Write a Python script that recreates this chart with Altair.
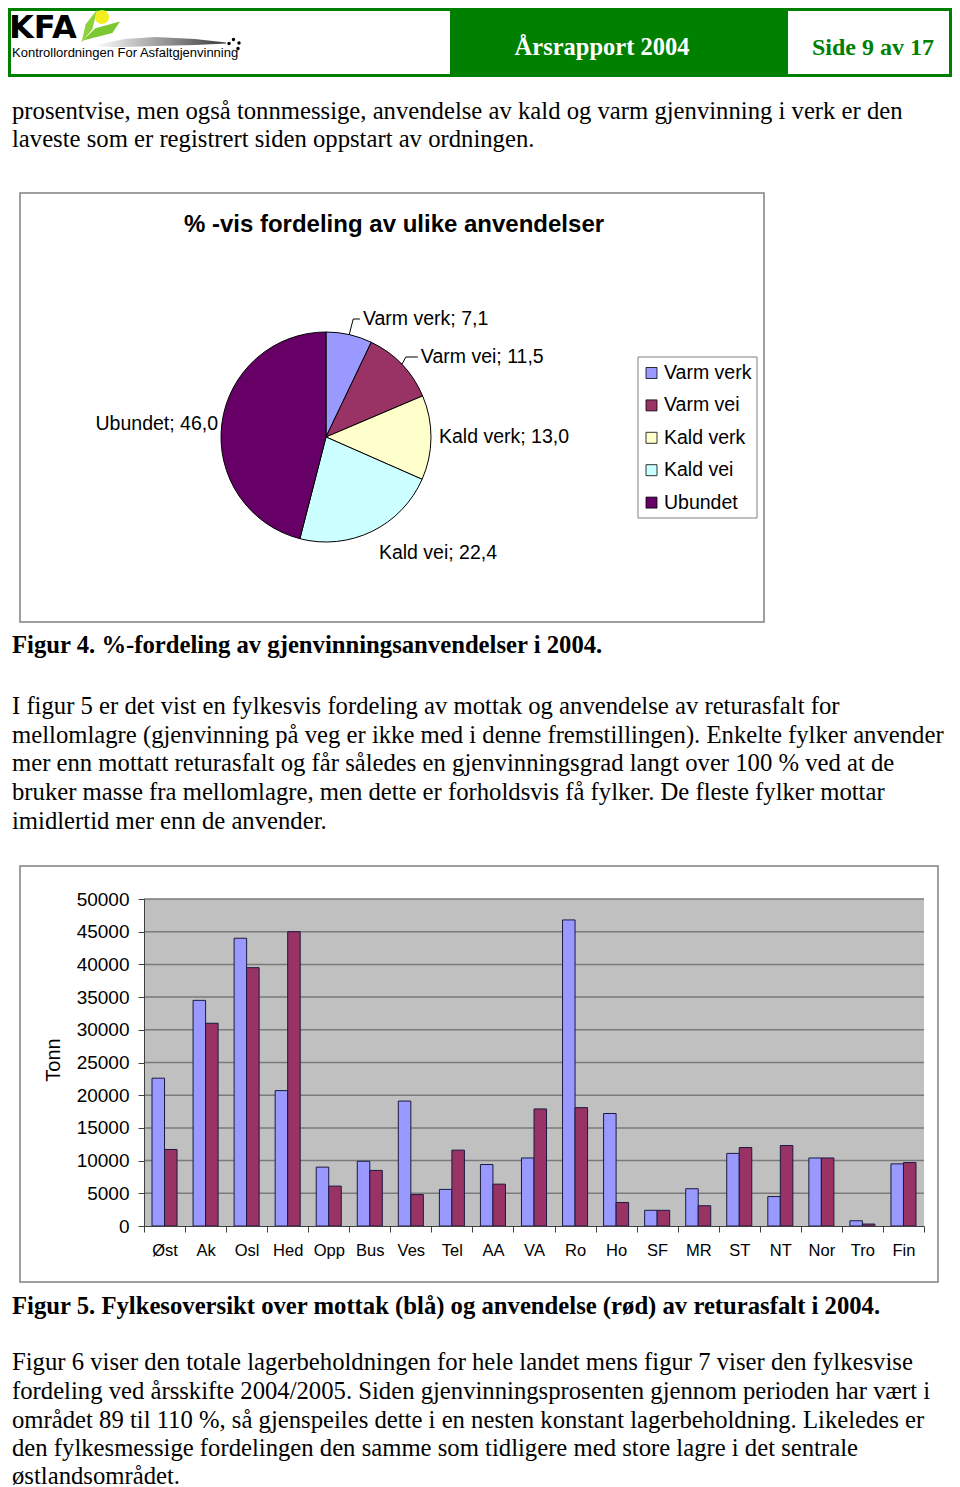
import math
import altair as alt
import pandas as pd

# ---------------- data ----------------
pie_categories = ["Varm verk", "Varm vei", "Kald verk", "Kald vei", "Ubundet"]
pie_values = [7.1, 11.5, 13.0, 22.4, 46.0]
pie_colors = ["#9999FF", "#993366", "#FFFFCC", "#CCFFFF", "#660066"]
pie_title = "% -vis fordeling av ulike anvendelser"

counties = ["Øst", "Ak", "Osl", "Hed", "Opp", "Bus", "Ves", "Tel", "AA", "VA",
            "Ro", "Ho", "SF", "MR", "ST", "NT", "Nor", "Tro", "Fin"]
mottak = [22600, 34500, 44000, 20700, 9000, 9900, 19100, 5600, 9400, 10400,
          46800, 17200, 2400, 5700, 11100, 4500, 10400, 800, 9500]
anvendelse = [11700, 31000, 39500, 45000, 6100, 8500, 4800, 11600, 6400, 17900,
              18100, 3600, 2400, 3100, 12000, 12300, 10400, 300, 9700]
series_names = ["Mottak", "Anvendelse"]
series_colors = ["#9999FF", "#993366"]
y_ticks = [0, 5000, 10000, 15000, 20000, 25000, 30000, 35000, 40000, 45000, 50000]
y_title = "Tonn"

header_title = "Årsrapport 2004"
header_page = "Side 9 av 17"
logo_big = "KFA"
logo_small = "Kontrollordningen For Asfaltgjenvinning"

para1 = ["prosentvise, men også tonnmessige, anvendelse av kald og varm gjenvinning i verk er den",
         "laveste som er registrert siden oppstart av ordningen."]
caption1 = "Figur 4. %-fordeling av gjenvinningsanvendelser i 2004."
para2 = ["I figur 5 er det vist en fylkesvis fordeling av mottak og anvendelse av returasfalt for",
         "mellomlagre (gjenvinning på veg er ikke med i denne fremstillingen). Enkelte fylker anvender",
         "mer enn mottatt returasfalt og får således en gjenvinningsgrad langt over 100 % ved at de",
         "bruker masse fra mellomlagre, men dette er forholdsvis få fylker. De fleste fylker mottar",
         "imidlertid mer enn de anvender."]
caption2 = "Figur 5. Fylkesoversikt over mottak (blå) og anvendelse (rød) av returasfalt i 2004."
para3 = ["Figur 6 viser den totale lagerbeholdningen for hele landet mens figur 7 viser den fylkesvise",
         "fordeling ved årsskifte 2004/2005. Siden gjenvinningsprosenten gjennom perioden har vært i",
         "området 89 til 110 %, så gjenspeiles dette i en nesten konstant lagerbeholdning. Likeledes er",
         "den fylkesmessige fordelingen den samme som tidligere med store lagre i det sentrale",
         "østlandsområdet."]

# ---------------- layout (page pixels) ----------------
W, H = 944, 1479
OFF = 8
SERIF = "Liberation Serif"
SANS = "Liberation Sans"
GREEN = "#008000"
BODY = 24.7
LH = 28.7


def P(v):
    return v - OFF


def text_layer(rows, size, font=SERIF, weight="normal", color="black",
               align="left", baseline="alphabetic", angle=0):
    df = pd.DataFrame({"x": [P(r[0]) for r in rows],
                       "y": [P(r[1]) for r in rows],
                       "t": [r[2] for r in rows]})
    m = dict(font=font, fontSize=size, fontWeight=weight, color=color,
             align=align, baseline=baseline)
    if angle:
        m["angle"] = angle
    return alt.Chart(df).mark_text(**m).encode(
        x=alt.X("x:Q", scale=None, axis=None),
        y=alt.Y("y:Q", scale=None, axis=None),
        text="t:N")


def rect_layer(rows, **mark):
    df = pd.DataFrame({"x": [P(r[0]) for r in rows], "y": [P(r[1]) for r in rows],
                       "x2": [P(r[2]) for r in rows], "y2": [P(r[3]) for r in rows]})
    return alt.Chart(df).mark_rect(**mark).encode(
        x=alt.X("x:Q", scale=None, axis=None), x2="x2:Q",
        y=alt.Y("y:Q", scale=None, axis=None), y2="y2:Q")


layers = []

# ---------------- header ----------------
layers.append(rect_layer([(9.5, 9.5, 950.5, 75.5)], fill="white", stroke=GREEN, strokeWidth=3))
layers.append(rect_layer([(450, 9.5, 788, 75.5)], fill=GREEN))
layers.append(text_layer([(602, 55, header_title)], 24.5, weight="bold", color="white", align="center"))
layers.append(text_layer([(873, 55, header_page)], 24, weight="bold", color=GREEN, align="center"))

# logo
swoosh = pd.DataFrame({"x": [P(v) for v in [95, 125, 155, 195, 226]],
                       "y": [P(v) for v in [45, 39, 37, 39, 42.5]],
                       "y2": [P(v) for v in [47, 47, 46, 45, 43.5]]})
layers.append(alt.Chart(swoosh).mark_area(
    color=alt.Gradient(gradient="linear",
                       stops=[alt.GradientStop(color="#ffffff", offset=0),
                              alt.GradientStop(color="#3a3a3a", offset=1)],
                       x1=0, x2=1, y1=0, y2=0)).encode(
    x=alt.X("x:Q", scale=None, axis=None),
    y=alt.Y("y:Q", scale=None, axis=None), y2="y2:Q"))
layers.append(alt.Chart(pd.DataFrame({"a": [0]})).mark_point(
    shape="M0.5,-1 L0.2,0.2 L-0.45,1 L-0.2,-0.1 Z", filled=True, size=1100,
    color="#8CD23C", opacity=1).encode(x=alt.value(P(89)), y=alt.value(P(26))))
layers.append(alt.Chart(pd.DataFrame({"a": [0]})).mark_point(
    shape="M-0.95,0.5 L-0.3,-0.15 L1,-0.5 L0.6,0.1 Z", filled=True, size=1444,
    color="#7CC832", opacity=1).encode(x=alt.value(P(101)), y=alt.value(P(31))))
layers.append(alt.Chart(pd.DataFrame({"a": [0]})).mark_circle(
    size=200, color="#F5EE1E", opacity=1).encode(x=alt.value(P(102)), y=alt.value(P(17))))
dots = pd.DataFrame({"x": [P(v) for v in [229, 233.5, 239, 238]],
                     "y": [P(v) for v in [43.5, 39.5, 43, 48.5]]})
layers.append(alt.Chart(dots).mark_circle(size=12, color="black", opacity=1).encode(
    x=alt.X("x:Q", scale=None, axis=None), y=alt.Y("y:Q", scale=None, axis=None)))
layers.append(text_layer([(9, 38, logo_big)], 32, font="DejaVu Sans", weight="bold"))
layers.append(text_layer([(12, 57, logo_small)], 13, font=SANS))

# ---------------- body text ----------------
layers.append(text_layer([(12, 118.5 + i * LH, s) for i, s in enumerate(para1)], BODY))
layers.append(text_layer([(12, 653, caption1)], BODY, weight="bold"))
layers.append(text_layer([(12, 714 + i * LH, s) for i, s in enumerate(para2)], BODY))
layers.append(text_layer([(12, 1314, caption2)], BODY, weight="bold"))
layers.append(text_layer([(12, 1370.3 + i * LH, s) for i, s in enumerate(para3[:-1])], BODY))
layers.append(text_layer([(12, 1483.5, para3[-1])], BODY))

# ---------------- pie panel ----------------
layers.append(rect_layer([(20, 193, 764, 622)], fill="white", stroke="#808080", strokeWidth=1.5))
layers.append(text_layer([(394, 225, pie_title)], 24, font=SANS, weight="bold",
                         align="center", baseline="middle"))

CX, CY, R = 326, 437, 105
pie_df = pd.DataFrame({"cat": pie_categories, "value": pie_values,
                       "color": pie_colors, "idx": list(range(len(pie_values)))})
layers.append(alt.Chart(pie_df).mark_arc(radius=R, stroke="black", strokeWidth=1).encode(
    theta=alt.Theta("value:Q", stack=True),
    color=alt.Color("color:N", scale=None),
    order=alt.Order("idx:Q", sort="ascending"),
    x=alt.value(P(CX)), y=alt.value(P(CY))))

# pie labels: anchored to the slice mid-angle edge point
label_nudge = [(13.7, -15.6), (19, -7.4), (8, -0.7), (7, 21.6), (-3.8, 0)]
label_align = ["left", "left", "left", "left", "right"]
leader = [True, True, False, False, False]
total = sum(pie_values)
cum = 0.0
left_rows, right_rows, line_rows = [], [], []
for i, (c, v) in enumerate(zip(pie_categories, pie_values)):
    a = 2 * math.pi * (cum + v / 2) / total
    cum += v
    ex, ey = CX + R * math.sin(a), CY - R * math.cos(a)
    lx, ly = ex + label_nudge[i][0], ey + label_nudge[i][1]
    txt = f"{c}; {v:.1f}".replace(".", ",")
    (left_rows if label_align[i] == "left" else right_rows).append((lx, ly, txt))
    if leader[i]:
        for k, (qx, qy) in enumerate([(ex, ey), (ex + 4, ly), (lx - 3, ly)]):
            line_rows.append({"id": c, "o": k, "x": P(qx), "y": P(qy)})
layers.append(alt.Chart(pd.DataFrame(line_rows)).mark_line(color="black", strokeWidth=1).encode(
    x=alt.X("x:Q", scale=None, axis=None), y=alt.Y("y:Q", scale=None, axis=None),
    detail="id:N", order="o:Q"))
layers.append(text_layer(left_rows, 19.5, font=SANS, baseline="middle"))
layers.append(text_layer(right_rows, 19.5, font=SANS, align="right", baseline="middle"))

# legend
layers.append(rect_layer([(638, 357, 757, 518)], fill="white", stroke="#808080", strokeWidth=1))
leg_y = [373 + i * 32.4 for i in range(len(pie_categories))]
leg_sq = pd.DataFrame({"x": [P(646)] * 5, "x2": [P(657)] * 5,
                       "y": [P(v - 5.5) for v in leg_y], "y2": [P(v + 5.5) for v in leg_y],
                       "color": pie_colors})
layers.append(alt.Chart(leg_sq).mark_rect(stroke="black", strokeWidth=0.8).encode(
    x=alt.X("x:Q", scale=None, axis=None), x2="x2:Q",
    y=alt.Y("y:Q", scale=None, axis=None), y2="y2:Q",
    color=alt.Color("color:N", scale=None)))
layers.append(text_layer([(664, y, c) for y, c in zip(leg_y, pie_categories)], 19.5,
                         font=SANS, baseline="middle"))

# ---------------- bar panel ----------------
PL, PR, PT, PB = 144, 924, 899, 1226
layers.append(rect_layer([(20, 866, 938, 1282)], fill="white", stroke="#808080", strokeWidth=1.5))
layers.append(rect_layer([(PL, PT, PR, PB)], fill="#C0C0C0"))

yscale = alt.Scale(domain=[0, 50000], range=[P(PB), P(PT)], nice=False, zero=True)
yaxis = alt.Axis(orient="left", offset=-P(PL), values=y_ticks, format="d", title=None,
                 grid=False, labelFont=SANS, labelFontSize=19, labelColor="black",
                 labelPadding=9, tickSize=6, tickColor="#404040", domainColor="#404040",
                 domainWidth=1, zindex=2)

grid_df = pd.DataFrame({"v": y_ticks[1:]})
layers.append(alt.Chart(grid_df).mark_rule(color="#7a7a7a", strokeWidth=1.5).encode(
    y=alt.Y("v:Q", scale=yscale, axis=yaxis),
    x=alt.value(P(PL)), x2=alt.value(P(PR))))

bars = pd.DataFrame({
    "county": counties * 2,
    "series": [series_names[0]] * len(counties) + [series_names[1]] * len(counties),
    "value": mottak + anvendelse,
    "color": [series_colors[0]] * len(counties) + [series_colors[1]] * len(counties),
})
layers.append(alt.Chart(bars).mark_bar(stroke="#1a1a40", strokeWidth=1).encode(
    x=alt.X("county:N", sort=counties,
            scale=alt.Scale(range=[P(PL), P(PR)], paddingInner=0, paddingOuter=0),
            axis=alt.Axis(orient="bottom", offset=-(H - P(PB)), title=None, labelAngle=0,
                          labelFont=SANS, labelFontSize=16.5, labelColor="black",
                          labelPadding=10, tickBand="extent", tickSize=6,
                          tickColor="#404040", domainColor="#404040", domainWidth=1,
                          zindex=2)),
    xOffset=alt.XOffset("series:N", sort=series_names,
                        scale=alt.Scale(paddingOuter=0.64, paddingInner=0)),
    y=alt.Y("value:Q", scale=yscale, axis=yaxis),
    color=alt.Color("color:N", scale=None)))

layers.append(text_layer([(54, 1060, y_title)], 20, font=SANS, align="center",
                         baseline="middle", angle=270))

chart = alt.layer(*layers).properties(
    width=W, height=H, padding=0, autosize=alt.AutoSizeParams(type="none")
).configure_view(stroke=None)

chart.save("out.html", embed_options={"renderer": "svg", "actions": False})
